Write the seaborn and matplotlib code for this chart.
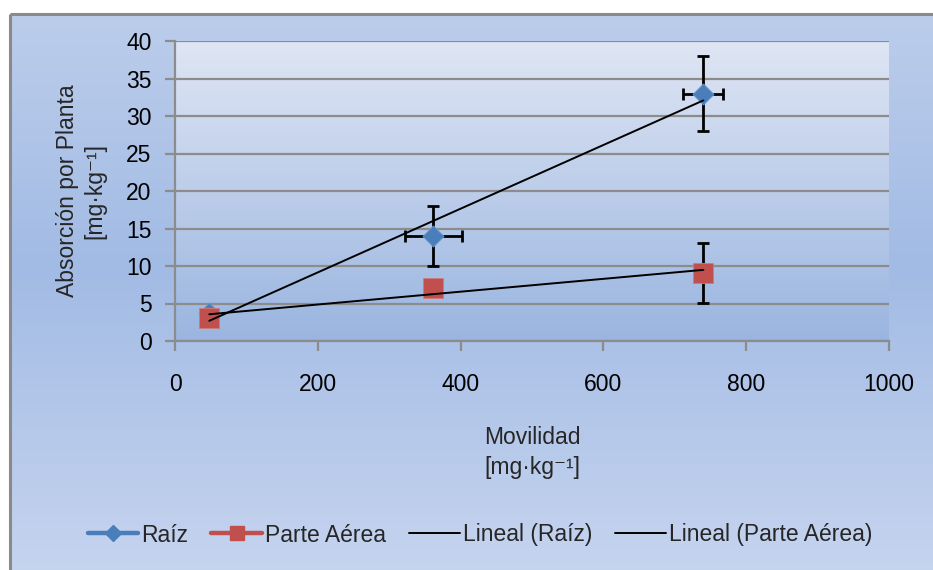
import numpy as np
import pandas as pd
import matplotlib
matplotlib.use("Agg")
import matplotlib.pyplot as plt
from matplotlib.colors import LinearSegmentedColormap
from matplotlib.lines import Line2D
import seaborn as sns

# Data
movilidad = [48, 362, 740]
raiz = [3.8, 14, 33]
raiz_xerr = [0, 40, 28]
raiz_yerr = [0, 4, 5]
aerea = [3.1, 7.1, 9.1]
aerea_yerr = [0, 0, 4]
x_ticks = [0, 200, 400, 600, 800, 1000]
y_ticks = [0, 5, 10, 15, 20, 25, 30, 35, 40]

sns.set_theme(style="white")
plt.rcParams["font.family"] = ["Liberation Sans", "DejaVu Sans"]

FS = 16.5
UNIT = "[mg·kg⁻¹]"

df = pd.DataFrame({"Movilidad": movilidad, "Raíz": raiz, "Parte Aérea": aerea})

fig = plt.figure(figsize=(9.33, 5.70), dpi=100)

# Chart-area background with frame
bg = fig.add_axes([0, 0, 1, 1], zorder=-10)
bg.axis("off")
outer_cmap = LinearSegmentedColormap.from_list(
    "outer", [(0.0, "#bccdeb"), (0.45, "#a2bbe4"), (1.0, "#c6d4ef")])
grad = np.linspace(0, 1, 256).reshape(-1, 1)
bg.imshow(grad, cmap=outer_cmap, aspect="auto", extent=[10, 940, 575, 14],
          interpolation="bicubic")
bg.plot([10, 10], [14, 575], color="#8a8a8a", lw=2.2, solid_capstyle="butt")
bg.plot([10, 940], [14, 14], color="#8a8a8a", lw=2.2, solid_capstyle="butt")
bg.set_xlim(0, 933)
bg.set_ylim(570, 0)

ax = fig.add_axes([175 / 933, 1 - 341 / 570, 714 / 933, 300 / 570])
ax.patch.set_alpha(0)
inner_cmap = LinearSegmentedColormap.from_list("inner", ["#dfe6f4", "#9ab5e0"])
ax.imshow(grad, cmap=inner_cmap, aspect="auto", extent=[0, 1, 0, 1],
          transform=ax.transAxes, zorder=0, interpolation="bicubic")

# Linear trend lines
sns.regplot(data=df, x="Movilidad", y="Raíz", scatter=False, ci=None, truncate=True,
            color="black", line_kws={"lw": 1.4, "zorder": 5}, ax=ax)
sns.regplot(data=df, x="Movilidad", y="Parte Aérea", scatter=False, ci=None, truncate=True,
            color="black", line_kws={"lw": 1.4, "zorder": 5}, ax=ax)

# Error bars
ax.errorbar(movilidad, raiz, xerr=raiz_xerr, yerr=raiz_yerr, fmt="none",
            ecolor="black", elinewidth=2.0, capsize=4.5, capthick=2.0, zorder=3)
ax.errorbar(movilidad, aerea, yerr=aerea_yerr, fmt="none",
            ecolor="black", elinewidth=2.0, capsize=4.5, capthick=2.0, zorder=3)

# Points
sns.scatterplot(data=df, x="Movilidad", y="Raíz", marker="D", s=115, color="#4a7ebb",
                edgecolor="#6b97cc", linewidth=0.6, zorder=4, ax=ax)
sns.scatterplot(data=df, x="Movilidad", y="Parte Aérea", marker="s", s=190, color="#c0504d",
                edgecolor="#d27a78", linewidth=0.6, zorder=4, ax=ax)

ax.set_xlim(0, 1000)
ax.set_ylim(0, 40)
ax.set_xticks(x_ticks)
ax.set_yticks(y_ticks)
ax.grid(axis="y", color="#8c8c8c", lw=1.6, zorder=1)
ax.set_axisbelow(True)
for side in ["top", "right"]:
    ax.spines[side].set_visible(False)
for side in ["left", "bottom"]:
    ax.spines[side].set_color("#8c8c8c")
    ax.spines[side].set_linewidth(1.6)
ax.tick_params(axis="both", which="major", direction="out", length=7, width=1.6,
               color="#8c8c8c", labelsize=FS, labelcolor="black",
               left=True, bottom=True)
ax.tick_params(axis="x", pad=16)
ax.tick_params(axis="y", pad=10)

ax.set_xlabel("Movilidad\n" + UNIT, fontsize=FS, labelpad=22, linespacing=1.35)
ax.set_ylabel("Absorción por Planta\n" + UNIT, fontsize=FS, labelpad=14, linespacing=1.25)

handles = [
    Line2D([], [], color="#4a7ebb", lw=3.2, marker="D", markersize=8),
    Line2D([], [], color="#c0504d", lw=3.2, marker="s", markersize=10),
    Line2D([], [], color="black", lw=1.4),
    Line2D([], [], color="black", lw=1.4),
]
labels = ["Raíz", "Parte Aérea", "Lineal (Raíz)", "Lineal (Parte Aérea)"]
fig.legend(handles, labels, loc="center", bbox_to_anchor=(480 / 933, 1 - 535 / 570),
           ncol=4, frameon=False, fontsize=FS, handlelength=2.2, handletextpad=0.15,
           columnspacing=1.0)

fig.savefig("out.png", dpi=100)
